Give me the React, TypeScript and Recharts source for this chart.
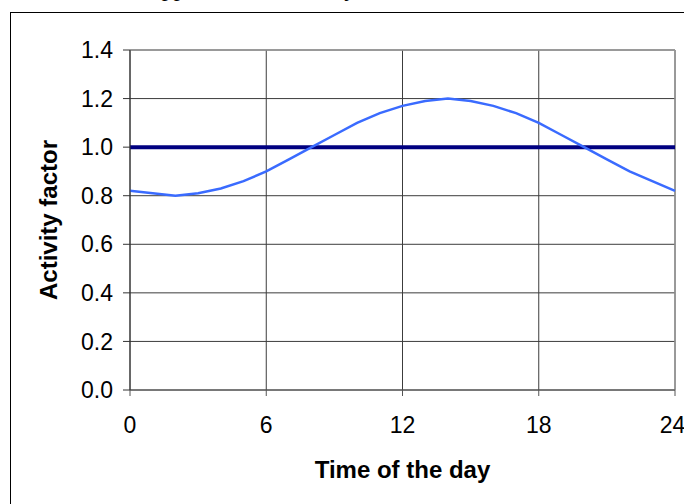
import React from 'react';
import { LineChart, Line, XAxis, YAxis, CartesianGrid, ReferenceLine } from 'recharts';

// hours of the day and the activity factor
const hours = [0, 1, 2, 3, 4, 5, 6, 7, 8, 9, 10, 11, 12, 13, 14, 15, 16, 17, 18, 19, 20, 21, 22, 23, 24];
const activity = [
    0.82, 0.81, 0.80, 0.81, 0.83, 0.86, 0.90, 0.95, 1.00, 1.05, 1.10, 1.14, 1.17,
    1.19, 1.20, 1.19, 1.17, 1.14, 1.10, 1.05, 1.00, 0.95, 0.90, 0.86, 0.82,
];
const baseline = 1.0;
const xTicks = [0, 6, 12, 18, 24];
const yTicks = [0, 0.2, 0.4, 0.6, 0.8, 1.0, 1.2, 1.4];

const data = hours.map((h, i) => ({ hour: h, factor: activity[i] }));

const FONT = '"Liberation Sans", Arial, sans-serif';

const YTitle = (props: any) => {
    const vb = props.viewBox;
    const cx = vb.x + 28;
    const cy = vb.y + vb.height / 2;
    return (
        <text x={cx} y={cy} transform={`rotate(-90 ${cx} ${cy})`} textAnchor="middle" dominantBaseline="central"
            fontFamily={FONT} fontSize={24} fontWeight="bold" fill="#000">
            Activity factor
        </text>
    );
};

const XTitle = (props: any) => {
    const vb = props.viewBox;
    return (
        <text x={vb.x + vb.width / 2} y={vb.y + 88} textAnchor="middle"
            fontFamily={FONT} fontSize={24} fontWeight="bold" fill="#000">
            Time of the day
        </text>
    );
};

const App = () => {
    return (
        <div style={{ position: 'fixed', left: 0, top: 0, width: 684, height: 504, overflow: 'hidden', background: '#fff' }}>
            {/* bits of the text line above the chart, mostly cut off */}
            <div style={{ position: 'absolute', left: 151, top: -25.5, fontFamily: '"Liberation Serif", serif', fontSize: 24, whiteSpace: 'nowrap' }}>
                approximates the day
            </div>
            <div style={{ position: 'absolute', left: 10, top: 12, width: 720, height: 540, border: '1px solid #000' }} />
            <div style={{ position: 'absolute', left: 0, top: 0 }}>
                <LineChart width={684} height={504} data={data} margin={{ top: 50, right: 9, bottom: 14, left: 20 }}>
                    <CartesianGrid stroke="#3c3c3c" strokeWidth={1} />
                    <ReferenceLine x={24} stroke="#999" strokeWidth={1.5} />
                    <ReferenceLine y={1.4} stroke="#999" strokeWidth={1.5} />
                    <XAxis
                        dataKey="hour"
                        type="number"
                        domain={[0, 24]}
                        ticks={xTicks}
                        height={100}
                        stroke="#555"
                        tickSize={6}
                        tickMargin={21}
                        tick={{ fill: '#000', fontSize: 23, fontFamily: FONT }}
                        label={{ content: XTitle }}
                    />
                    <YAxis
                        type="number"
                        domain={[0, 1.4]}
                        ticks={yTicks}
                        width={110}
                        stroke="#333"
                        tickSize={7}
                        tickMargin={10}
                        tickFormatter={(v: number) => v.toFixed(1)}
                        tick={{ fill: '#000', fontSize: 23, fontFamily: FONT }}
                        label={{ content: YTitle }}
                    />
                    <ReferenceLine y={baseline} stroke="#000080" strokeWidth={4} />
                    <Line
                        type="linear"
                        dataKey="factor"
                        stroke="#3a6bff"
                        strokeWidth={2.5}
                        dot={false}
                        isAnimationActive={false}
                    />
                </LineChart>
            </div>
        </div>
    );
};

export default App;
